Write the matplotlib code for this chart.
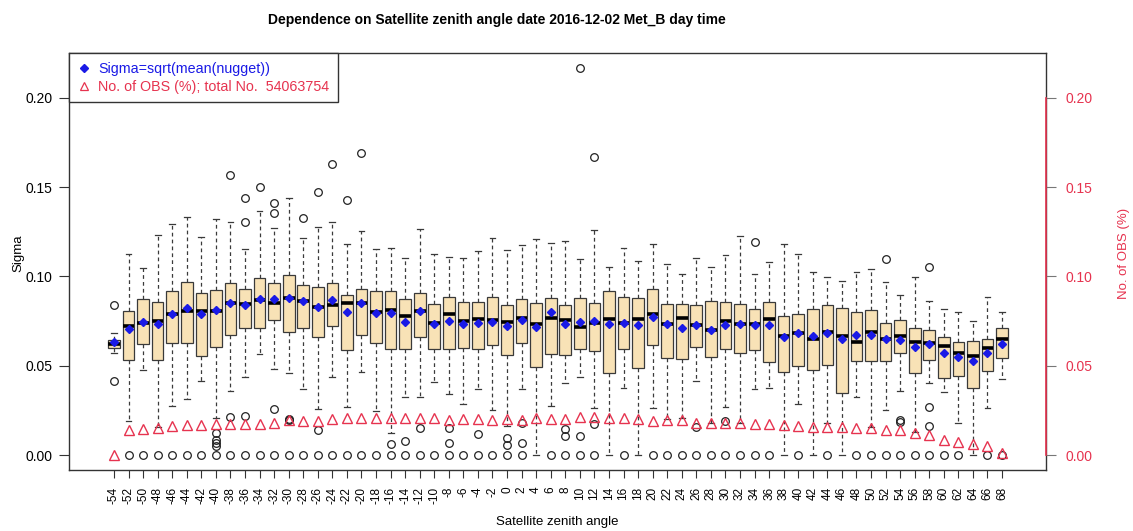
import matplotlib
matplotlib.use("Agg")
import matplotlib.pyplot as plt
from matplotlib.lines import Line2D

plt.rcParams["font.family"] = ["Liberation Sans", "DejaVu Sans"]

# ── Per-angle statistics of sigma ─────────────────────────────────
angles = [-54, -52, -50, -48, -46, -44, -42, -40, -38, -36, -34, -32, -30, -28,
          -26, -24, -22, -20, -18, -16, -14, -12, -10, -8, -6, -4, -2, 0,
          2, 4, 6, 8, 10, 12, 14, 16, 18, 20, 22, 24, 26, 28, 30, 32,
          34, 36, 38, 40, 42, 44, 46, 48, 50, 52, 54, 56, 58, 60, 62, 64, 66, 68]

q3 = [0.0644, 0.0807, 0.0874, 0.0857, 0.0917, 0.0967, 0.0909, 0.0924, 0.0965, 0.0930,
      0.0990, 0.0965, 0.1008, 0.0952, 0.0943, 0.0962, 0.0896, 0.0930, 0.0921, 0.0921,
      0.0872, 0.0906, 0.0844, 0.0883, 0.0855, 0.0855, 0.0887, 0.0840, 0.0874, 0.0850,
      0.0878, 0.0840, 0.0878, 0.0850, 0.0919, 0.0883, 0.0878, 0.0928, 0.0846, 0.0846,
      0.0840, 0.0865, 0.0855, 0.0844, 0.0818, 0.0855, 0.0779, 0.0790, 0.0816, 0.0840,
      0.0822, 0.0799, 0.0812, 0.0741, 0.0756, 0.0713, 0.0700, 0.0659, 0.0631, 0.0639,
      0.0650, 0.0710]
q1 = [0.0598, 0.0532, 0.0620, 0.0532, 0.0626, 0.0629, 0.0556, 0.0603, 0.0672, 0.0710,
      0.0710, 0.0756, 0.0691, 0.0713, 0.0659, 0.0723, 0.0588, 0.0672, 0.0629, 0.0592,
      0.0592, 0.0659, 0.0592, 0.0592, 0.0601, 0.0592, 0.0616, 0.0560, 0.0626, 0.0491,
      0.0566, 0.0560, 0.0592, 0.0584, 0.0458, 0.0592, 0.0486, 0.0616, 0.0542, 0.0538,
      0.0603, 0.0551, 0.0592, 0.0573, 0.0588, 0.0523, 0.0467, 0.0499, 0.0476, 0.0504,
      0.0345, 0.0528, 0.0528, 0.0528, 0.0570, 0.0458, 0.0532, 0.0430, 0.0443, 0.0373,
      0.0472, 0.0542]
median = [0.0620, 0.0725, 0.0738, 0.0753, 0.0788, 0.0807, 0.0809, 0.0807, 0.0850, 0.0846,
          0.0868, 0.0850, 0.0878, 0.0865, 0.0831, 0.0840, 0.0850, 0.0850, 0.0803, 0.0812,
          0.0780, 0.0807, 0.0738, 0.0790, 0.0753, 0.0760, 0.0756, 0.0747, 0.0766, 0.0734,
          0.0766, 0.0756, 0.0719, 0.0738, 0.0760, 0.0741, 0.0762, 0.0788, 0.0732, 0.0766,
          0.0728, 0.0700, 0.0751, 0.0734, 0.0734, 0.0760, 0.0667, 0.0685, 0.0650, 0.0691,
          0.0669, 0.0635, 0.0691, 0.0650, 0.0669, 0.0631, 0.0629, 0.0611, 0.0573, 0.0555,
          0.0601, 0.0648]
whisk_hi = [0.0685, 0.1126, 0.1050, 0.1232, 0.1294, 0.1335, 0.1220, 0.1320, 0.1303, 0.1156,
            0.1367, 0.1270, 0.1440, 0.1218, 0.1280, 0.1307, 0.1182, 0.1257, 0.1154, 0.1158,
            0.1102, 0.1266, 0.1124, 0.1111, 0.1102, 0.1145, 0.1214, 0.1148, 0.1176, 0.1208,
            0.1186, 0.1200, 0.1096, 0.1260, 0.1051, 0.1158, 0.1089, 0.1182, 0.1070, 0.1014,
            0.1102, 0.1055, 0.1120, 0.1227, 0.1014, 0.1083, 0.1180, 0.1126, 0.1023, 0.0999,
            0.0975, 0.1023, 0.1040, 0.0967, 0.0896, 0.0999, 0.0865, 0.0818, 0.0803, 0.0751,
            0.0887, 0.0799]
whisk_lo = [0.0573, 0.0192, 0.0476, 0.0159, 0.0275, 0.0314, 0.0416, 0.0209, 0.0359, 0.0439,
            0.0566, 0.0482, 0.0461, 0.0370, 0.0256, 0.0435, 0.0267, 0.0467, 0.0248, 0.0121,
            0.0327, 0.0323, 0.0411, 0.0342, 0.0284, 0.0368, 0.0252, 0.0162, 0.0368, 0.0000,
            0.0275, 0.0401, 0.0439, 0.0261, 0.0000, 0.0373, 0.0000, 0.0261, 0.0200, 0.0205,
            0.0416, 0.0181, 0.0271, 0.0181, 0.0368, 0.0373, 0.0000, 0.0286, 0.0000, 0.0177,
            0.0000, 0.0327, 0.0155, 0.0252, 0.0360, 0.0130, 0.0401, 0.0355, 0.0177, 0.0000,
            0.0261, 0.0424]
sigma_mean = [0.0635, 0.0706, 0.0747, 0.0734, 0.0788, 0.0822, 0.0790, 0.0812, 0.0850, 0.0840,
              0.0874, 0.0874, 0.0881, 0.0865, 0.0831, 0.0868, 0.0800, 0.0850, 0.0794, 0.0794,
              0.0747, 0.0807, 0.0734, 0.0753, 0.0734, 0.0741, 0.0747, 0.0723, 0.0756, 0.0719,
              0.0800, 0.0734, 0.0747, 0.0753, 0.0734, 0.0741, 0.0728, 0.0775, 0.0732, 0.0713,
              0.0728, 0.0700, 0.0728, 0.0734, 0.0728, 0.0728, 0.0659, 0.0685, 0.0669, 0.0682,
              0.0648, 0.0672, 0.0672, 0.0648, 0.0644, 0.0603, 0.0620, 0.0573, 0.0551, 0.0528,
              0.0573, 0.0622]
outliers = [
    [0.0840, 0.0415], [0.0], [0.0], [0.0], [0.0], [0.0], [0.0],
    [0.0125, 0.0085, 0.0065, 0.0050, 0.0], [0.1570, 0.0215, 0.0],
    [0.1438, 0.1303, 0.0220, 0.0], [0.1500, 0.0], [0.1410, 0.1354, 0.0260, 0.0],
    [0.0200, 0.0195, 0.0], [0.1326, 0.0], [0.1475, 0.0140, 0.0], [0.1630, 0.0],
    [0.1429, 0.0], [0.1694, 0.0], [0.0], [0.0060, 0.0], [0.0080, 0.0], [0.0150, 0.0],
    [0.0], [0.0150, 0.0065, 0.0], [0.0], [0.0116, 0.0], [0.0], [0.0093, 0.0056, 0.0],
    [0.0177, 0.0065, 0.0], [], [0.0], [0.0144, 0.0106, 0.0], [0.2168, 0.0106, 0.0],
    [0.1670, 0.0174, 0.0], [], [0.0], [], [0.0], [0.0], [0.0], [0.0155, 0.0], [0.0],
    [0.0192, 0.0], [0.0], [0.1195, 0.0], [0.0], [], [0.0], [], [0.0], [], [0.0], [0.0],
    [0.1096, 0.0], [0.0196, 0.0187, 0.0], [0.0], [0.1055, 0.0267, 0.0162, 0.0], [0.0],
    [0.0], [], [0.0], [0.0],
]
# share of observations per angle (%)
obs_pct = [0.0000, 0.0140, 0.0146, 0.0150, 0.0164, 0.0168, 0.0168, 0.0174, 0.0174, 0.0174,
           0.0174, 0.0177, 0.0196, 0.0192, 0.0192, 0.0200, 0.0209, 0.0209, 0.0209, 0.0205,
           0.0205, 0.0209, 0.0209, 0.0196, 0.0200, 0.0200, 0.0196, 0.0200, 0.0196, 0.0205,
           0.0200, 0.0200, 0.0215, 0.0215, 0.0205, 0.0205, 0.0200, 0.0192, 0.0196, 0.0196,
           0.0177, 0.0177, 0.0181, 0.0181, 0.0174, 0.0174, 0.0168, 0.0162, 0.0155, 0.0159,
           0.0155, 0.0150, 0.0150, 0.0140, 0.0140, 0.0121, 0.0112, 0.0084, 0.0071, 0.0062,
           0.0052, 0.0009]
total_obs = 54063754

yticks = [0.00, 0.05, 0.10, 0.15, 0.20]

RED = "#e6334f"
BLUE = "#1a1ae6"
FRAME = "#333333"

# ── Figure ────────────────────────────────────────────────────────
W, H = 1133, 531
fig = plt.figure(figsize=(W / 100, H / 100), dpi=100)
ax = fig.add_axes([69 / W, 1 - 470 / H, (1046 - 69) / W, (470 - 53) / H])

pos = list(range(len(angles)))
stats = [
    dict(med=median[i], q1=q1[i], q3=q3[i], whislo=whisk_lo[i], whishi=whisk_hi[i],
         fliers=outliers[i])
    for i in pos
]
ax.bxp(stats, positions=pos, widths=0.8, capwidths=0.4, patch_artist=True,
       manage_ticks=False,
       boxprops=dict(facecolor="#f8e2b6", edgecolor="#3a3a3a", linewidth=0.9),
       medianprops=dict(color="black", linewidth=2.6, solid_capstyle="butt"),
       whiskerprops=dict(color="#3a3a3a", linewidth=0.9, linestyle=(0, (3, 2.5))),
       capprops=dict(color="#3a3a3a", linewidth=0.9),
       flierprops=dict(marker="o", markerfacecolor="none", markeredgecolor="#222222",
                       markersize=5.5, markeredgewidth=0.9))
ax.plot(pos, sigma_mean, "D", color=BLUE, markersize=3.6, zorder=4)

ax.set_xlim(-3.09, 64.02)
ax.set_ylim(-0.0084, 0.2252)
ax.set_xticks(pos)
ax.set_xticklabels([str(a) for a in angles], rotation=90, fontsize=8.5)
ax.set_yticks(yticks)
ax.set_yticklabels([f"{v:.2f}" for v in yticks], fontsize=10)
ax.tick_params(axis="x", length=6, width=0.8, color=FRAME, pad=6)
ax.tick_params(axis="y", length=7, width=0.8, color=FRAME, pad=5)
for sp in ax.spines.values():
    sp.set_color(FRAME)
    sp.set_linewidth(1.0)

# observation share on the right axis, same scale
ax2 = ax.twinx()
ax2.plot(pos, obs_pct, "^", markerfacecolor="none", markeredgecolor=RED,
         markersize=7, markeredgewidth=1.0, zorder=5)
ax2.set_ylim(ax.get_ylim())
ax2.set_yticks(yticks)
ax2.set_yticklabels([f"{v:.2f}" for v in yticks], fontsize=10, color=RED)
ax2.tick_params(axis="y", length=7, width=0.8, color="#777777", pad=7)
for name, sp in ax2.spines.items():
    sp.set_visible(name == "right")
ax2.spines["right"].set_color(RED)
ax2.spines["right"].set_linewidth(1.2)
ax2.spines["right"].set_bounds(0.0, 0.20)

handles = [
    Line2D([], [], linestyle="none", marker="D", color=BLUE, markersize=3.6),
    Line2D([], [], linestyle="none", marker="^", markerfacecolor="none",
           markeredgecolor=RED, markersize=6, markeredgewidth=0.9),
]
labels = ["Sigma=sqrt(mean(nugget))", f"No. of OBS (%); total No.  {total_obs}"]
leg = ax2.legend(handles, labels, loc="upper left", bbox_to_anchor=(0, 1),
                 borderaxespad=0, fancybox=False, framealpha=1, edgecolor=FRAME,
                 fontsize=10.3, handlelength=0.9, handletextpad=0.55, borderpad=0.6,
                 labelspacing=0.3)
leg.get_frame().set_linewidth(1.0)
leg.get_texts()[0].set_color(BLUE)
leg.get_texts()[1].set_color(RED)

fig.text(497 / W, 1 - 20 / H,
         "Dependence on Satellite zenith angle date 2016-12-02 Met_B day time",
         ha="center", va="center", fontsize=10, fontweight="bold")
fig.text(557 / W, 1 - 522 / H, "Satellite zenith angle", ha="center", va="center",
         fontsize=9.5)
fig.text(18 / W, 1 - 253 / H, "Sigma", rotation=90, ha="center", va="center",
         fontsize=9.5)
fig.text(1124 / W, 1 - 253 / H, "No. of OBS (%)", rotation=90, ha="center",
         va="center", fontsize=9.5, color=RED)

fig.savefig("out.png", dpi=100, facecolor="white")
